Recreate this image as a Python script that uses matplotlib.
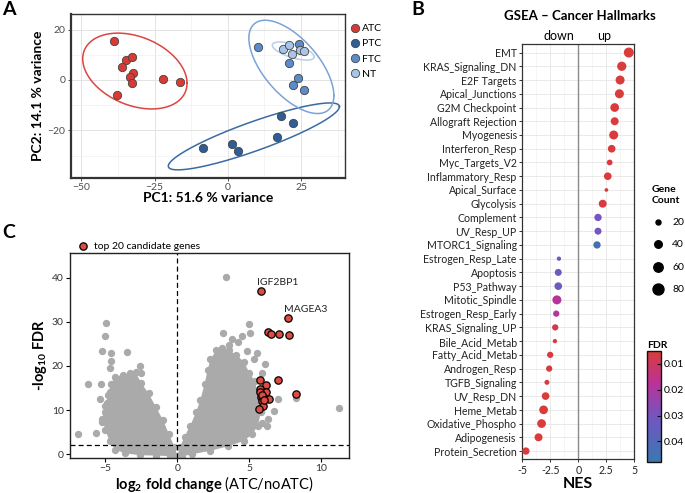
import numpy as np
import matplotlib
matplotlib.use("Agg")
import matplotlib.pyplot as plt
from matplotlib.colors import LinearSegmentedColormap
from matplotlib.lines import Line2D

plt.rcParams['font.family'] = ['Lato', 'DejaVu Sans']
plt.rcParams['mathtext.fontset'] = 'custom'
plt.rcParams['mathtext.rm'] = 'Lato'
plt.rcParams['mathtext.bf'] = 'Lato:bold'
plt.rcParams['mathtext.it'] = 'Lato:italic'

# ---------------- data: panel A (PCA) ----------------
atc_x = [-38.7, -34.8, -32.8, -36.0, -32.2, -33.3, -32.7, -37.9, -22.2, -16.4]
atc_y = [15.6, 7.9, 9.0, 5.3, 2.6, 1.1, -1.3, -5.8, 0.5, -0.9]
ptc_x = [-8.4, 1.4, 3.6, 16.9, 18.1, 22.4]
ptc_y = [-26.9, -25.4, -28.0, -22.5, -14.3, -17.2]
ftc_x = [10.4, 24.2, 21.0, 23.8, 22.4, 25.9]
ftc_y = [13.0, 14.3, 6.9, 0.7, -1.9, -4.0]
nt_x = [18.8, 20.9, 22.0, 24.8, 25.9]
nt_y = [12.3, 13.8, 10.4, 12.0, 11.4]
# ellipse: centre x, centre y, x half width, y offset of rightmost pt, conjugate y
ell_atc = (-31.7, 3.55, 17.8, -4.85, 14.25)
ell_ptc = (8.9, -22.4, 29.2, 11.8, 6.1)
ell_ftc = (21.7, 5.2, 14.5, -11.4, 14.6)
ell_nt = (22.35, 11.5, 7.15, -2.3, 2.77)

# ---------------- data: panel B (GSEA) ----------------
hallmarks = ["EMT", "KRAS_Signaling_DN", "E2F Targets", "Apical_Junctions", "G2M Checkpoint",
             "Allograft Rejection", "Myogenesis", "Interferon_Resp", "Myc_Targets_V2",
             "Inflammatory_Resp", "Apical_Surface", "Glycolysis", "Complement", "UV_Resp_UP",
             "MTORC1_Signaling", "Estrogen_Resp_Late", "Apoptosis", "P53_Pathway",
             "Mitotic_Spindle", "Estrogen_Resp_Early", "KRAS_Signaling_UP", "Bile_Acid_Metab",
             "Fatty_Acid_Metab", "Androgen_Resp", "TGFB_Signaling", "UV_Resp_DN", "Heme_Metab",
             "Oxidative_Phospho", "Adipogenesis", "Protein_Secretion"]
nes = [4.51, 3.88, 3.73, 3.67, 3.25, 3.25, 3.16, 2.98, 2.80, 2.63, 2.51, 2.18, 1.76, 1.76, 1.67,
       -1.73, -1.79, -1.79, -1.91, -1.97, -2.06, -2.09, -2.51, -2.60, -2.80, -2.92, -3.10, -3.28,
       -3.55, -4.68]
gene_count = [67, 58, 55, 55, 52, 44, 55, 41, 25, 41, 13, 44, 38, 35, 38,
              16, 35, 41, 55, 29, 29, 16, 29, 29, 20, 41, 52, 52, 44, 38]
fdr = [0.005, 0.005, 0.005, 0.005, 0.005, 0.005, 0.005, 0.005, 0.006, 0.005, 0.006, 0.006,
       0.030, 0.030, 0.045, 0.032, 0.033, 0.034, 0.018, 0.019, 0.008, 0.006, 0.006, 0.006,
       0.006, 0.005, 0.005, 0.005, 0.005, 0.005]
count_legend = [20, 40, 60, 80]

# ---------------- data: panel C (volcano) ----------------
# outline of the dense grey clouds
left_cloud_x = [0.0, -0.2, -0.6, -1.0, -1.5, -2.0, -2.5, -2.9, -3.3, -3.8, -4.3, -4.6, -4.8,
                -5.0, -5.2, -5.0, -4.7, -4.3, -3.6, -2.6, -1.5, -0.5]
left_cloud_y = [-0.3, 1.7, 4.7, 7.8, 10.8, 13.8, 16.1, 18.6, 18.3, 18.0, 17.5, 16.0, 13.5,
                11.0, 8.0, 5.5, 3.0, 1.0, 0.2, -0.2, -0.3, -0.4]
right_cloud_x = [0.0, 0.2, 0.5, 0.9, 1.3, 1.6, 1.9, 2.1, 2.3, 2.7, 3.1, 3.6, 4.1, 4.6, 5.0,
                 5.4, 5.6, 5.8, 5.6, 5.2, 4.6, 3.5, 2.3, 1.0, 0.3]
right_cloud_y = [-0.3, 1.7, 4.0, 6.5, 9.5, 12.3, 16.0, 19.0, 21.5, 23.5, 24.0, 23.5, 22.5,
                 21.0, 18.5, 16.5, 13.0, 9.5, 6.5, 4.5, 3.0, 1.8, 0.8, 0.0, -0.5]
grey_x = [-4.97, -5.02, -5.2, -4.6, -4.63, -4.65, -3.49, -2.61, -2.54, -6.2, -5.3, -6.92,
          -5.65, -5.25, -4.9, -5.0, -5.4, -4.7,
          3.38, 4.98, 3.15, 5.05, 4.47, 3.82, 4.2, 3.6, 4.86, 6.09, 5.9, 7.01, 8.24, 11.25,
          6.74, 6.3, 5.9, 6.2, 5.5, 5.3]
grey_y = [29.8, 26.8, 23.4, 23.0, 21.2, 19.6, 23.1, 20.1, 18.3, 16.0, 16.0, 4.6,
          4.75, 7.4, 11.5, 9.5, 12.5, 14.0,
          40.1, 29.4, 27.4, 27.4, 26.8, 26.1, 25.5, 24.8, 23.4, 20.4, 18.5, 12.5, 12.7, 10.5,
          9.8, 8.0, 7.0, 6.5, 23.0, 21.5]
top_x = [5.81, 7.67, 6.30, 6.51, 7.08, 7.74, 5.74, 6.16, 5.74, 6.16, 5.79, 6.37, 5.88, 5.93,
         5.69, 6.97, 8.24, 5.72, 5.85, 6.05]
top_y = [37.0, 30.9, 27.6, 27.3, 27.3, 27.1, 16.8, 15.8, 14.8, 14.2, 13.0, 12.6, 12.0, 11.0,
         10.2, 16.8, 13.6, 14.0, 13.5, 12.3]
gene_labels = ["IGF2BP1", "MAGEA3"]
label_x = [5.56, 7.43]
label_y = [39.0, 32.8]

W, H = 685, 493
fig = plt.figure(figsize=(6.85, 4.93), dpi=100)


def px_axes(l, t, r, b):
    return fig.add_axes([l / W, 1 - b / H, (r - l) / W, (b - t) / H])


def ellipse(p, n=200):
    cx, cy, hx, ry, vy = p
    t = np.linspace(0, 2 * np.pi, n)
    return cx + hx * np.cos(t), cy + ry * np.cos(t) + vy * np.sin(t)


# ================= panel A =================
ax = px_axes(70.7, 14, 345, 177.7)
ax.set_xlim(-53.6, 40)
ax.set_ylim(-38.8, 26.2)
ax.set_xticks([-50, -25, 0, 25])
ax.set_yticks([-20, 0, 20])
ax.set_xticks([-37.5, -12.5, 12.5, 37.5], minor=True)
ax.set_yticks([-30, -10, 10], minor=True)
ax.grid(True, which='major', color='#e3e3e3', lw=0.7)
ax.grid(True, which='minor', color='#f0f0f0', lw=0.5)
ax.set_axisbelow(True)
ax.tick_params(which='minor', length=0)
ax.tick_params(which='major', length=2.5, width=0.7, color='#555555', labelsize=7.5,
               labelcolor='#4d4d4d', pad=1.5)
for s in ax.spines.values():
    s.set_color('#333333')
    s.set_linewidth(1.0)
ax.spines['left'].set_linewidth(1.6)
ax.spines['bottom'].set_linewidth(1.6)

cols = {'ATC': '#d93a35', 'PTC': '#2d5e97', 'FTC': '#5c8bca', 'NT': '#a9c4e4'}
ell_cols = {'ATC': '#dc4540', 'PTC': '#3a6aa3', 'FTC': '#7aa3d6', 'NT': '#b7d0ec'}
for key, ex, ey, ep in [('ATC', atc_x, atc_y, ell_atc), ('PTC', ptc_x, ptc_y, ell_ptc),
                        ('FTC', ftc_x, ftc_y, ell_ftc), ('NT', nt_x, nt_y, ell_nt)]:
    xe, ye = ellipse(ep)
    ax.plot(xe, ye, color=ell_cols[key], lw=1.1, zorder=2)
    ax.scatter(ex, ey, s=36, color=cols[key], edgecolor='#444444', lw=0.6, zorder=3)

ax.set_xlabel('PC1: 51.6 % variance', fontsize=10, fontweight='bold', labelpad=0)
ax.set_ylabel('PC2: 14.1 % variance', fontsize=10, fontweight='bold', labelpad=2)

handles = [Line2D([], [], ls='', marker='o', ms=6, mfc=cols[k], mec='#444444', mew=0.6)
           for k in cols]
fig.legend(handles, list(cols.keys()), loc='upper left', bbox_to_anchor=(345 / W, 1 - 20 / H),
           frameon=False, fontsize=7.5, handletextpad=0.0, labelspacing=0.55,
           handlelength=1.2, borderaxespad=0)

fig.text(2 / W, 1 - 1 / H, 'A', fontsize=14, fontweight='bold', va='top')

# ================= panel B =================
axb = px_axes(522.3, 44.3, 634.3, 459.3)
n = len(hallmarks)
ypos = np.arange(n, 0, -1)
cmap = LinearSegmentedColormap.from_list('fdr', [(0, '#da3b3b'), (0.3, '#b8339a'),
                                                 (0.6, '#7256c2'), (1, '#3a78b0')])


def size_of(c):
    d = np.sqrt(25 + 1.6 * (np.asarray(c) - 20))
    return (0.72 * d) ** 2


sc = axb.scatter(nes, ypos, s=size_of(gene_count), c=fdr, cmap=cmap, vmin=0.005, vmax=0.048,
                 zorder=3, clip_on=False, lw=0)
axb.set_xlim(-5, 5)
axb.set_ylim(0.4, n + 0.6)
axb.set_yticks(ypos)
axb.set_yticklabels(hallmarks)
axb.set_xticks([-5, -2.5, 0, 2.5, 5])
axb.set_xticklabels(['-5', '-2.5', '0', '2.5', '5'])
axb.set_xticks([-3.75, -1.25, 1.25, 3.75], minor=True)
axb.grid(True, which='major', color='#e6e6e6', lw=0.6)
axb.grid(True, which='minor', axis='x', color='#f1f1f1', lw=0.5)
axb.set_axisbelow(True)
axb.axvline(0, color='#8a8a8a', lw=1.0, zorder=2)
axb.tick_params(which='minor', length=0)
axb.tick_params(which='major', length=2.5, width=0.7, color='#333333', labelsize=7.6,
                labelcolor='#222222', pad=1.5)
for s in axb.spines.values():
    s.set_color('#333333')
    s.set_linewidth(0.9)
axb.set_xlabel('NES', fontsize=11.5, fontweight='bold', labelpad=0.5)
fig.text(580 / W, 1 - 16.5 / H, 'GSEA – Cancer Hallmarks', fontsize=9.5, fontweight='bold',
         ha='center', va='center')
fig.text(559.3 / W, 1 - 35.7 / H, 'down', fontsize=9, ha='center', va='center')
fig.text(604 / W, 1 - 35.7 / H, 'up', fontsize=9, ha='center', va='center')

lh = [plt.scatter([], [], s=size_of(c), color='black') for c in count_legend]
fig.legend(lh, [str(c) for c in count_legend], loc='upper left',
           bbox_to_anchor=(643 / W, 1 - 181 / H), frameon=False, fontsize=7.5,
           title='Gene\nCount', title_fontproperties={'weight': 'bold', 'size': 7.5},
           labelspacing=1.25, handletextpad=0.4, borderaxespad=0, scatterpoints=1)

cax = px_axes(646.7, 351, 660.7, 462)
cb = fig.colorbar(sc, cax=cax, ticks=[0.01, 0.02, 0.03, 0.04])
cax.invert_yaxis()
cb.outline.set_linewidth(1.0)
cb.outline.set_edgecolor('#111111')
cax.tick_params(labelsize=7.5, length=3, width=0.8, color='#111111', direction='in', pad=2)
cax.set_title('FDR', fontsize=7.5, fontweight='bold', pad=2, loc='left')

fig.text(411 / W, 1 - 1 / H, 'B', fontsize=14, fontweight='bold', va='top')

# ================= panel C =================
axc = px_axes(70, 253.3, 349.3, 457.7)
axc.fill(left_cloud_x, left_cloud_y, color='#aaaaaa', lw=0, zorder=1)
axc.fill(right_cloud_x, right_cloud_y, color='#aaaaaa', lw=0, zorder=1)
axc.scatter(left_cloud_x + right_cloud_x, left_cloud_y + right_cloud_y, s=28, color='#aaaaaa',
            lw=0, zorder=1)
axc.scatter(grey_x, grey_y, s=28, color='#aaaaaa', lw=0, zorder=1)
axc.scatter(top_x, top_y, s=28, color='#de4b40', edgecolor='black', lw=0.9, zorder=3,
            label='top 20 candidate genes')
for g, lx, ly in zip(gene_labels, label_x, label_y):
    axc.text(lx, ly, g, fontsize=7.5, ha='left', va='center', color='#222222')
axc.axhline(2, color='black', ls=(0, (4, 2.5)), lw=0.9, zorder=2)
axc.axvline(0, color='black', ls=(0, (4, 2.5)), lw=0.9, zorder=2)
axc.set_xlim(-7.45, 11.94)
axc.set_ylim(-0.77, 45.5)
axc.set_xticks([-5, 0, 5, 10])
axc.set_yticks([0, 10, 20, 30, 40])
axc.tick_params(length=3, width=0.8, labelsize=7.5, labelcolor='#333333', pad=1.5)
for s in axc.spines.values():
    s.set_color('#222222')
    s.set_linewidth(1.0)
fig.text(115 / W, 1 - 484.3 / H, r'$\mathbf{log_2\ fold\ change}$ (ATC/noATC)',
         fontsize=10.5, ha='left', va='center')
axc.set_ylabel(r'-log$_{\mathbf{10}}$ FDR', fontsize=10.5, fontweight='bold', labelpad=2)
axc.legend(loc='lower left', bbox_to_anchor=(-0.0, 1.0), frameon=False, fontsize=7.5,
           handletextpad=0.1, borderaxespad=0.1, borderpad=0.1)

fig.text(2 / W, 1 - 224 / H, 'C', fontsize=14, fontweight='bold', va='top')

fig.savefig('out.png', dpi=100)
